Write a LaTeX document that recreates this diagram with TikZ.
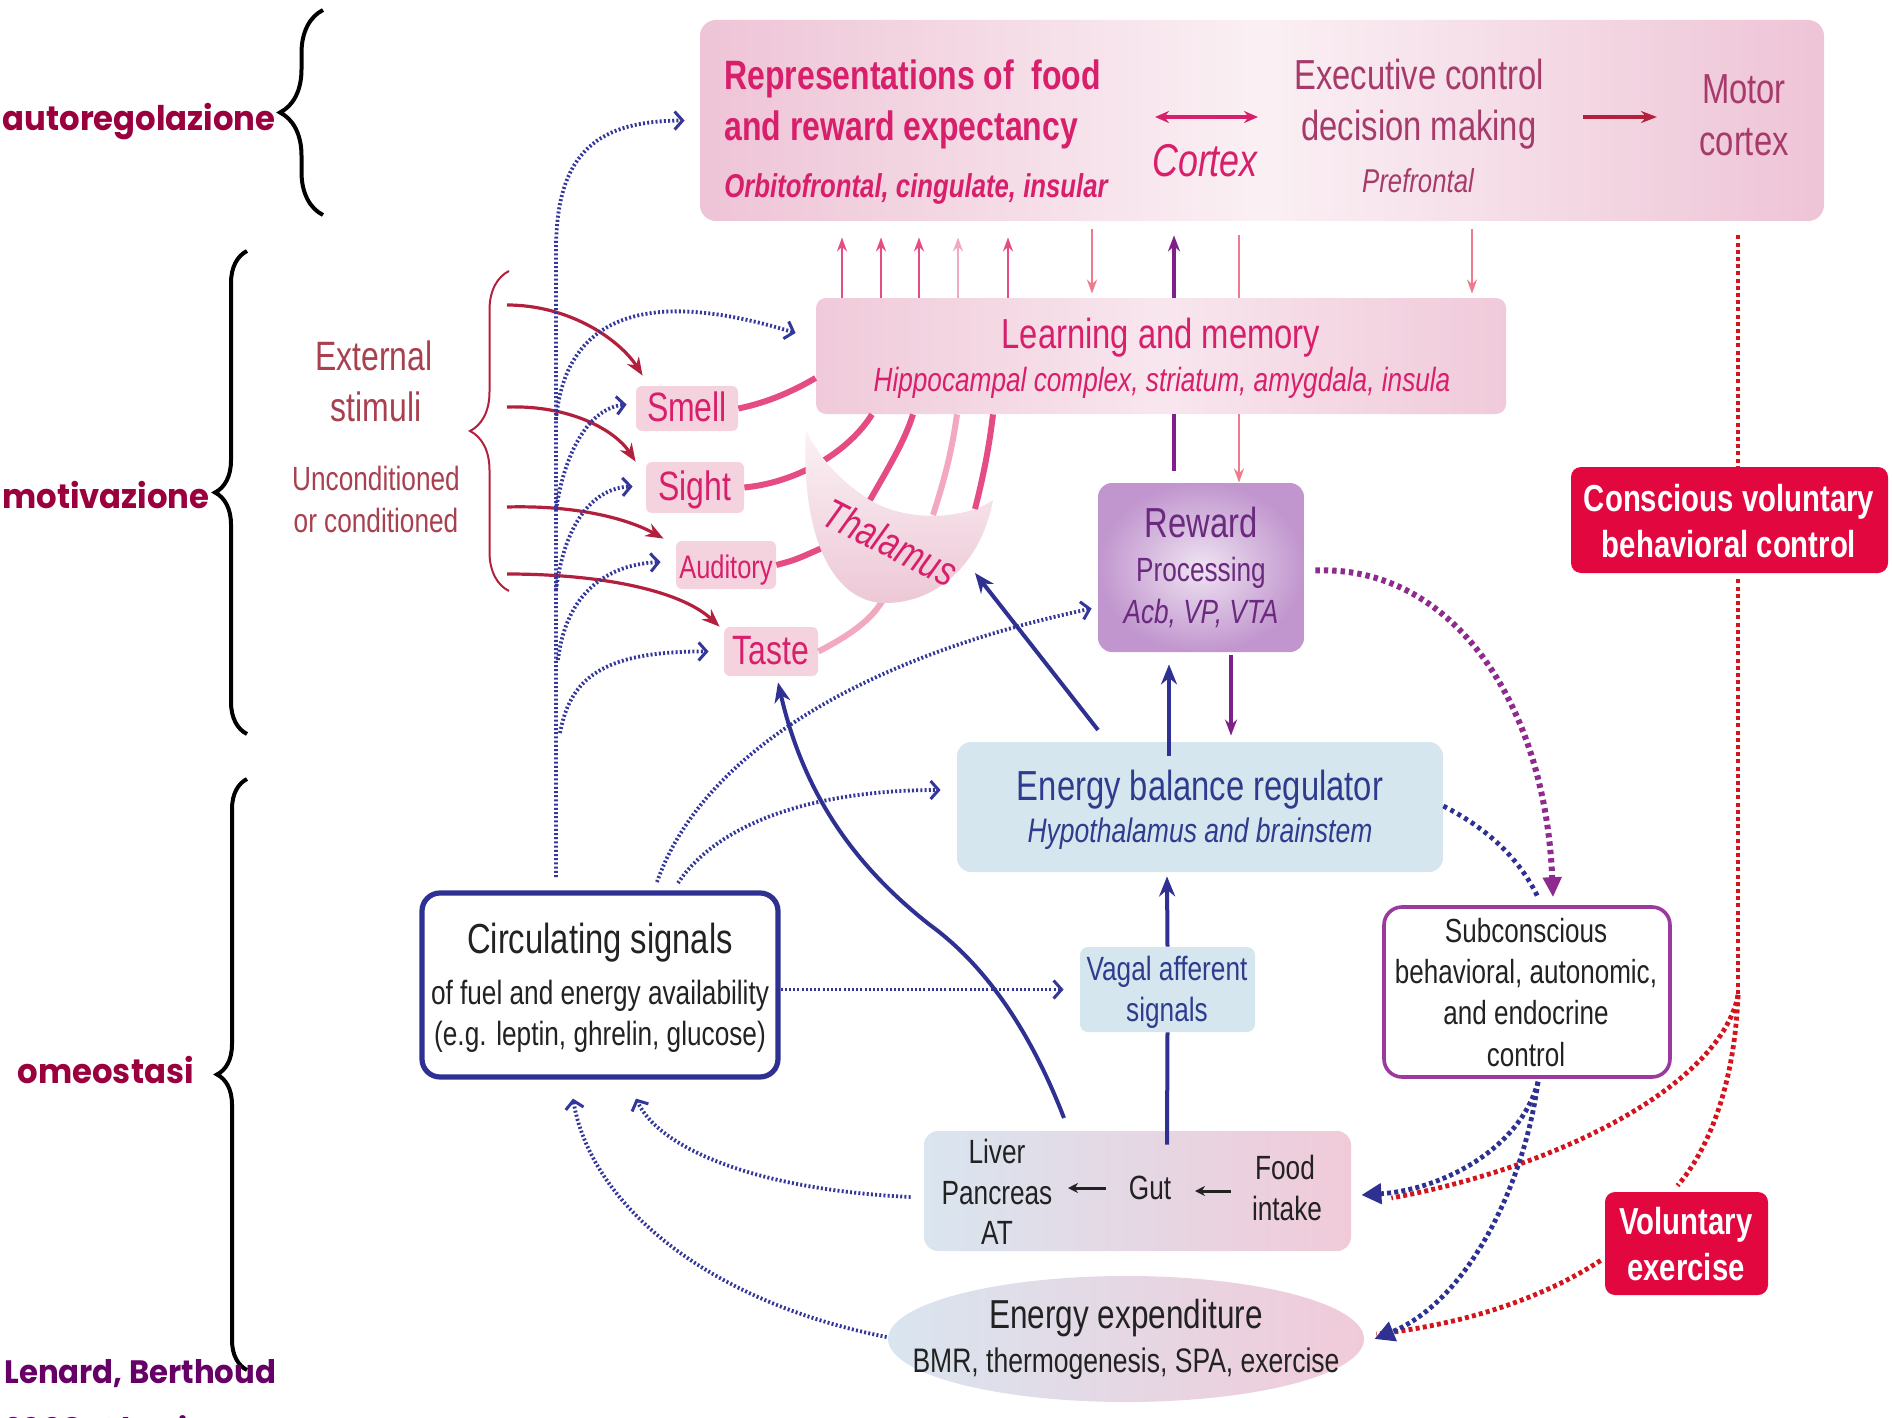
\documentclass[tikz,border=0pt]{standalone}
\usepackage{fontspec}
\setmainfont{Liberation Sans}[FakeStretch=0.78]
\newfontfamily\lblfont{Poppins}[FakeStretch=0.95]
\usetikzlibrary{arrows.meta,decorations.pathreplacing,shapes.geometric,calc}
\newcommand\fs[1]{\fontsize{#1}{#1}\selectfont}
\definecolor{navy}{HTML}{2E3192}
\definecolor{dotblue}{HTML}{34379A}
\definecolor{mag}{HTML}{D81F6B}
\definecolor{mauve}{HTML}{A63B6B}
\definecolor{pinkline}{HTML}{E64C84}
\definecolor{lightpinkline}{HTML}{F2A9C0}
\definecolor{salmon}{HTML}{EE7A8E}
\definecolor{purp}{HTML}{7E1F8A}
\definecolor{purpdot}{HTML}{8E2B8E}
\definecolor{reddot}{HTML}{D4141C}
\definecolor{crimson}{HTML}{E2073F}
\definecolor{stimred}{HTML}{B2203E}
\definecolor{stimtext}{HTML}{A8404F}
\definecolor{lblred}{HTML}{99003D}
\definecolor{lblpurp}{HTML}{660066}
\definecolor{cortexpink}{HTML}{EEC4D6}
\definecolor{cortexwhite}{HTML}{FAF0F4}
\definecolor{learnpink}{HTML}{F0CADA}
\definecolor{learnwhite}{HTML}{F8E6EE}
\definecolor{senspink}{HTML}{F4D3DF}
\definecolor{ltblue}{HTML}{D6E6EF}
\definecolor{rewardpurp}{HTML}{C196CE}
\definecolor{rewinner}{HTML}{EFE3F2}
\definecolor{rewtext}{HTML}{6A2A7E}
\definecolor{energytext}{HTML}{2F3C8E}
\definecolor{subcpurp}{HTML}{9B3A9E}
\definecolor{gradblue}{HTML}{D9E5EF}
\definecolor{gradpink}{HTML}{F1CAD9}
\definecolor{thaltop}{HTML}{FBF1F5}
\definecolor{thalbot}{HTML}{EDC8D6}
\definecolor{darktext}{HTML}{222222}
\begin{document}
\begin{tikzpicture}[x=0.5pt,y=-0.5pt,
  box/.style={rounded corners=5pt, inner sep=0pt},
  t/.style={inner sep=0pt, anchor=mid, yshift=-4pt},
  bdot/.style={draw=dotblue, line width=1.9pt, dash pattern=on 1pt off 1.1pt},
  barb/.style={-{Straight Barb[length=4pt,width=9pt,line width=1.5pt]}},
  pinkup/.style={draw=pinkline, line width=1.3pt, -{Stealth[length=7pt,width=5pt]}},
  salmdown/.style={draw=salmon, line width=1.3pt, -{Stealth[length=7pt,width=5pt]}},
  navyline/.style={draw=navy, line width=2pt},
  navyarrow/.style={navyline, -{Stealth[length=10pt,width=8pt]}},
  sensline/.style={draw=pinkline, line width=3pt},
  stimarrow/.style={draw=stimred, line width=1.6pt, -{Stealth[length=9pt,width=7pt]}},
  rdot/.style={draw=reddot, line width=2.4pt, dash pattern=on 2pt off 1.6pt},
  bigdot/.style={draw=navy, line width=2.4pt, dash pattern=on 2pt off 1.6pt},
  pdot/.style={draw=purpdot, line width=3pt, dash pattern=on 2.2pt off 2pt},
  blackbrace/.style={draw=black, line width=2pt, decorate},
]
\useasboundingbox (0,0) rectangle (1892,1418);
\clip (0,0) rectangle (1892,1418);

% ---------------- side braces and labels
\draw[blackbrace, decoration={brace, amplitude=21.5pt}] (323,215) -- (323,10);
\draw[blackbrace, decoration={brace, amplitude=16pt}] (247,734) -- (247,251);
\draw[blackbrace, decoration={brace, amplitude=15pt}] (247,1370) -- (247,779);
\node[t, anchor=mid east, font=\lblfont\bfseries\fs{17}, text=lblred] (lauto) at (276,117) {autoregolazione};
\node[t, anchor=mid east, font=\lblfont\bfseries\fs{17}, text=lblred] (lmot) at (210,495) {motivazione};
\node[t, anchor=mid east, font=\lblfont\bfseries\fs{17}, text=lblred] (lomeo) at (194,1070) {omeostasi};
\node[t, anchor=mid west, font=\lblfont\bfseries\fs{16.2}, text=lblpurp] (lref) at (4,1370) {Lenard, Berthoud};
\node[t, anchor=mid west, font=\lblfont\bfseries\fs{16.2}, text=lblpurp] (lyear) at (4,1428) {2008, Obesity};

% ---------------- boxes
\node[box, rounded corners=8pt, minimum width=562pt, minimum height=100.5pt, left color=cortexpink, right color=cortexpink, middle color=cortexwhite] (cortex) at (1262,120.5) {};
\node[box, minimum width=345pt, minimum height=58pt, left color=learnpink, right color=learnpink, middle color=learnwhite] (learn) at (1161,356) {};
\node[box, rounded corners=3pt, fill=senspink, minimum width=51pt, minimum height=22.5pt] (smell) at (687,408.5) {};
\node[box, rounded corners=3pt, fill=senspink, minimum width=49pt, minimum height=25.5pt] (sight) at (695,487.5) {};
\node[box, rounded corners=3pt, fill=senspink, minimum width=50pt, minimum height=24pt] (aud) at (726,565) {};
\node[box, rounded corners=3pt, fill=senspink, minimum width=47pt, minimum height=24.5pt] (taste) at (771,651.5) {};
\node[box, rounded corners=7pt, minimum width=103pt, minimum height=84.5pt, inner color=rewinner, outer color=rewardpurp] (reward) at (1201,567.5) {};
\node[box, rounded corners=7pt, fill=ltblue, minimum width=243pt, minimum height=65pt] (energy) at (1200,807) {};
\node[box, rounded corners=4pt, fill=ltblue, minimum width=87.5pt, minimum height=42.5pt] (vagal) at (1167.5,989.5) {};
\node[box, rounded corners=9pt, draw=navy, line width=2.6pt, fill=white, minimum width=178pt, minimum height=92pt] (circ) at (600,985) {};
\node[box, rounded corners=9pt, draw=subcpurp, line width=1.8pt, fill=white, minimum width=143pt, minimum height=85pt] (subc) at (1527,992) {};
\node[box, rounded corners=7pt, left color=gradblue, right color=gradpink, minimum width=213.5pt, minimum height=60pt] (food) at (1137.5,1191) {};
\node[ellipse, inner sep=0pt, left color=gradblue, right color=gradpink, minimum width=238pt, minimum height=63pt] (expend) at (1126,1339) {};
\node[box, rounded corners=5pt, fill=crimson, minimum width=158.5pt, minimum height=53pt] (consc) at (1729.5,520) {};
\node[box, rounded corners=5pt, fill=crimson, minimum width=81.5pt, minimum height=51.5pt] (volex) at (1686.5,1243.5) {};

% ---------------- cortex texts
\node[t, anchor=mid west, font=\fs{20.5}\bfseries, text=mag] (rep1) at (724,76) {Representations of\ \ food};
\node[t, anchor=mid west, font=\fs{20.5}\bfseries, text=mag] (rep2) at (724,127) {and reward expectancy};
\node[t, anchor=mid west, font=\fs{16.5}\bfseries\itshape, text=mag, yshift=1pt] (rep3) at (724,186) {Orbitofrontal, cingulate, insular};
\node[t, font=\fs{23}\itshape, text=mag] (ctx) at (1205,163) {Cortex};
\node[t, font=\fs{21}, text=mauve] (exec1) at (1419,76) {Executive control};
\node[t, font=\fs{21}, text=mauve] (exec2) at (1419,127) {decision making};
\node[t, font=\fs{16.5}\itshape, text=mauve, yshift=1pt] (pref) at (1418,181) {Prefrontal};
\node[t, font=\fs{21}, text=mauve] (mot1) at (1744,90) {Motor};
\node[t, font=\fs{21}, text=mauve] (mot2) at (1744,142) {cortex};
\coordinate (da1) at (1155,117);
\coordinate (da2) at (1258,117);
\draw[{Stealth[length=7pt,width=6pt]}-{Stealth[length=7pt,width=6pt]}, draw=mag, line width=1.6pt] (da1) -- (da2);
\coordinate (ma1) at (1583,117);
\coordinate (ma2) at (1657,117);
\draw[-{Stealth[length=8pt,width=6pt]}, draw=stimred, line width=2pt] (ma1) -- (ma2);

% ---------------- learning texts
\node[t, font=\fs{21}, text=mag] (learn1) at (1161,335) {Learning and memory};
\node[t, font=\fs{16.8}\itshape, text=mag, yshift=1pt] (learn2) at (1162,380) {Hippocampal complex, striatum, amygdala, insula};

% ---------------- arrows between learning and cortex
\foreach \xx/\cc in {842/pinkline, 881/pinkline, 919/pinkline, 958/lightpinkline, 1008/pinkline}{
  \draw[pinkup, draw=\cc] (\xx,0 |- learn.north) -- ([yshift=-8pt]\xx,0 |- cortex.south);
}
\draw[salmdown] ([yshift=-4pt]1092,0 |- cortex.south) -- ([yshift=2pt]1092,0 |- learn.north);
\draw[salmdown] ([yshift=-4pt]1472,0 |- cortex.south) -- ([yshift=2pt]1472,0 |- learn.north);
\draw[draw=purp, line width=2pt, -{Stealth[length=8pt,width=6pt]}] (1174,0 |- learn.north) -- ([yshift=-7pt]1174,0 |- cortex.south);
\draw[draw=salmon, line width=1.3pt] ([yshift=-7pt]1239,0 |- cortex.south) -- (1239,0 |- learn.north);
\draw[draw=purp, line width=2pt] (1174,0 |- learn.south) -- ([yshift=6pt]1174,0 |- reward.north);
\draw[salmdown] (1239,0 |- learn.south) -- (1239,0 |- reward.north);

% ---------------- sense lines (behind thalamus)
\draw[sensline] (smell.east) .. controls (770,402) and (795,390) .. ($(learn.west)+(0,22)$);
\draw[sensline] (sight.east) .. controls (800,482) and (850,450) .. (872,0 |- learn.south);
\draw[sensline] (aud.east) .. controls (795,560) .. (822,548);
\draw[sensline, draw=lightpinkline] (taste.east) .. controls (850,635) and (872,620) .. (884,598);

% ---------------- thalamus
\path[top color=thaltop, bottom color=thalbot]
  (806,430) .. controls (800,540) and (835,603) .. (885,603)
  .. controls (940,603) and (982,560) .. (993,500)
  .. controls (965,520) and (905,522) .. (870,500)
  .. controls (843,483) and (820,460) .. (806,430) -- cycle;
\coordinate (thal) at (975,573);
\draw[sensline] (870,500) .. controls (890,465) and (905,440) .. (913,0 |- learn.south);
\draw[sensline, draw=lightpinkline] (933,515) .. controls (945,478) and (952,450) .. (957,0 |- learn.south);
\draw[sensline] (975,509) .. controls (985,470) and (990,440) .. (993,0 |- learn.south);
\node[t, font=\fs{21}\itshape, text=mag, rotate=-27, yshift=0pt] (thaltxt) at (886,543) {Thalamus};

% ---------------- sense texts
\node[t, font=\fs{20.5}, text=mag] (smelltxt) at (smell) {Smell};
\node[t, font=\fs{20.5}, text=mag] (sighttxt) at (sight) {Sight};
\node[t, font=\fs{16.3}, text=mag] (audtxt) at (aud) {Auditory};
\node[t, font=\fs{20.5}, text=mag] (tastetxt) at (taste) {Taste};

% ---------------- external stimuli
\draw[draw=stimred, line width=1pt, decorate, decoration={brace, amplitude=19.5pt}] (509,591) -- (509,271);
\node[t, font=\fs{20.5}, text=stimtext] (ext1) at (374,357) {External};
\node[t, font=\fs{20.5}, text=stimtext] (ext2) at (376,408) {stimuli};
\node[t, font=\fs{16.8}, text=stimtext] (unc1) at (376,477) {Unconditioned};
\node[t, font=\fs{16.8}, text=stimtext] (unc2) at (376,519) {or conditioned};
\coordinate (es1) at (507,305);
\coordinate (es2) at (507,407);
\coordinate (es3) at (507,507);
\coordinate (es4) at (507,574);
\draw[stimarrow] (es1) .. controls (570,305) and (620,340) .. ($(smell.north west)+(7,-10)$);
\draw[stimarrow] (es2) .. controls (570,405) and (615,430) .. ($(sight.north west)+(-10,0)$);
\draw[stimarrow] (es3) .. controls (580,505) and (630,520) .. ($(aud.north west)+(-12,-2)$);
\draw[stimarrow] (es4) .. controls (600,574) and (680,590) .. ($(taste.north west)+(-4,0)$);

% ---------------- blue dotted from circulating signals (left trunk)
\coordinate (vbot) at (556,877);
\coordinate (vturn) at (556,250);
\draw[bdot, barb] (vbot) -- (vturn) .. controls (556,150) and (600,121) .. ($(cortex.west)+(-15,0)$);
\coordinate (vl) at (556,420);
\coordinate (vs) at (556,510);
\coordinate (vg) at (556,590);
\coordinate (va) at (558,660);
\coordinate (vt) at (560,733);
\draw[bdot, barb] (vl) .. controls (565,320) and (640,285) .. ($(learn.west)+(-20,-23)$);
\draw[bdot, barb] (vs) .. controls (565,450) and (590,408) .. ($(smell.west)+(-9,-4)$);
\draw[bdot, barb] (vg) .. controls (565,520) and (595,488) .. ($(sight.west)+(-13,-1)$);
\draw[bdot, barb] (va) .. controls (565,600) and (600,565) .. ($(aud.west)+(-15,-3)$);
\draw[bdot, barb] (vt) .. controls (570,680) and (600,651) .. ($(taste.west)+(-15,0)$);

% circulating -> reward / energy / vagal
\draw[bdot, barb] (657,882) .. controls (700,760) and (850,660) .. ($(reward.west)+(-6,41)$);
\draw[bdot, barb] (678,883) .. controls (720,820) and (820,790) .. ($(energy.west)+(-16,-17)$);
\draw[bdot, barb] (circ.east |- vagal) -- ($(vagal.west)+(-16,0)$);

% ---------------- navy solid connectors
\draw[navyarrow] (1064,1118) .. controls (1030,1030) and (985,965) .. (930,925)
  .. controls (860,870) and (805,800) .. ($(taste.south)+(7,6)$);
\draw[navyarrow] (1098,730) -- (thal);
\draw[navyline] ([yshift=-7pt]1167,0 |- food.north) -- (vagal.south);
\draw[navyarrow] (vagal.north) -- ([yshift=-2pt]1167,0 |- energy.south);
\draw[navyarrow] ([yshift=-7pt]1169,0 |- energy.north) -- ([yshift=-6pt]1169,0 |- reward.south);
\draw[draw=purp, line width=2pt, -{Stealth[length=8pt,width=6pt]}] ([yshift=-1.5pt]1231,0 |- reward.south) -- ([yshift=3pt]1231,0 |- energy.north);

% ---------------- texts in lower boxes
\node[t, font=\fs{21}, text=rewtext] (rew1) at (1201,524) {Reward};
\node[t, font=\fs{16.8}, text=rewtext, yshift=1pt] (rew2) at (1201,570) {Processing};
\node[t, font=\fs{16.8}\itshape, text=rewtext, yshift=1pt] (rew3) at (1201,612) {Acb, VP, VTA};
\node[t, font=\fs{21}, text=energytext] (en1) at (1200,787) {Energy balance regulator};
\node[t, font=\fs{17}\itshape, text=energytext, yshift=1pt] (en2) at (1200,831) {Hypothalamus and brainstem};
\node[t, font=\fs{16.8}, text=energytext, yshift=1pt] (vag1) at (1167,969) {Vagal afferent};
\node[t, font=\fs{16.8}, text=energytext, yshift=1pt] (vag2) at (1167,1010) {signals};
\node[t, font=\fs{21}, text=darktext] (circ1) at (600,940) {Circulating signals};
\node[t, font=\fs{16.8}, text=darktext, yshift=1pt] (circ2) at (600,993) {of fuel and energy availability};
\node[t, font=\fs{16.8}, text=darktext, yshift=1pt] (circ3) at (600,1034) {(e.g. leptin, ghrelin, glucose)};
\node[t, font=\fs{16.7}, text=darktext, yshift=1pt] (sub1) at (1526,931) {Subconscious};
\node[t, font=\fs{16.7}, text=darktext, yshift=1pt] (sub2) at (1526,972) {behavioral, autonomic,};
\node[t, font=\fs{16.7}, text=darktext, yshift=1pt] (sub3) at (1526,1013) {and endocrine};
\node[t, font=\fs{16.7}, text=darktext, yshift=1pt] (sub4) at (1526,1055) {control};
\node[t, font=\fs{16.8}, text=darktext, yshift=1pt] (liver) at (997,1152) {Liver};
\node[t, font=\fs{16.8}, text=darktext, yshift=1pt] (panc) at (997,1193) {Pancreas};
\node[t, font=\fs{16.8}, text=darktext, yshift=1pt] (at) at (997,1233) {AT};
\node[t, font=\fs{16.8}, text=darktext, yshift=1pt] (gut) at (1150,1188) {Gut};
\node[t, font=\fs{16.8}, text=darktext, yshift=1pt] (fi1) at (1285,1168) {Food};
\node[t, font=\fs{16.8}, text=darktext, yshift=1pt] (fi2) at (1287,1209) {intake};
\coordinate (ga1) at (1106,1188);
\coordinate (ga2) at (1068,1188);
\coordinate (gb1) at (1231,1191);
\coordinate (gb2) at (1195,1191);
\draw[-{Stealth[length=5pt,width=5pt]}, line width=1.5pt, draw=darktext] (ga1) -- (ga2);
\draw[-{Stealth[length=5pt,width=5pt]}, line width=1.5pt, draw=darktext] (gb1) -- (gb2);
\node[t, font=\fs{20.2}, text=darktext] (ee1) at (1126,1315) {Energy expenditure};
\node[t, font=\fs{17}, text=darktext, yshift=1pt] (ee2) at (1126,1361) {BMR, thermogenesis, SPA, exercise};
\node[t, font=\fs{18.8}\bfseries, text=white] (cv1) at (1729,498) {Conscious voluntary};
\node[t, font=\fs{18.8}\bfseries, text=white] (cv2) at (1729,544) {behavioral control};
\node[t, font=\fs{18.8}\bfseries, text=white] (vx1) at (1686,1221) {Voluntary};
\node[t, font=\fs{18.8}\bfseries, text=white] (vx2) at (1686,1267) {exercise};

% ---------------- returns to circulating signals
\draw[bdot, barb] ($(food.west)+(-13,6)$) .. controls (760,1190) and (660,1150) .. ($(circ.south)+(36,19)$);
\draw[bdot, barb] ($(expend.west)+(-1,-2)$) .. controls (700,1300) and (590,1200) .. ($(circ.south)+(-27,19)$);

% ---------------- right side dotted connectors
\draw[bigdot, dash pattern=on 2pt off 2pt] ($(energy.east)+(0,-1)$) .. controls (1490,830) and (1520,860) .. ($(subc.north)+(11,-8)$);
\draw[pdot, -{Triangle[length=10pt,width=9pt]}] ($(reward.east)+(11,3)$) .. controls (1450,565) and (1545,700) .. ($(subc.north)+(26,-8)$);
\draw[rdot] (1738,0 |- cortex.south) ++(0,14) -- (1738,0 |- consc.north);
\coordinate (rsplit) at (1738,995);
\draw[rdot] (1738,0 |- consc.south) ++(0,6) -- (rsplit);
\draw[rdot] (rsplit) .. controls (1722,1080) and (1570,1165) .. ($(food.east)+(40,7)$);
\draw[rdot] (rsplit) .. controls (1734,1100) and (1700,1160) .. ($(volex.north)+(-9,-6)$);
\draw[rdot] ($(volex.west)+(-4,17)$) .. controls (1540,1300) and (1460,1325) .. ($(expend.east)+(12,-5)$);
\draw[bigdot, -{Triangle[length=10pt,width=10pt]}] ($(subc.south)+(11,3)$) .. controls (1520,1150) and (1440,1190) .. ($(food.east)+(10,4)$);
\draw[bigdot, -{Triangle[length=10pt,width=10pt]}] ($(subc.south)+(11,3)$) .. controls (1525,1180) and (1470,1300) .. ($(expend.east)+(10,0)$);
\end{tikzpicture}
\end{document}
